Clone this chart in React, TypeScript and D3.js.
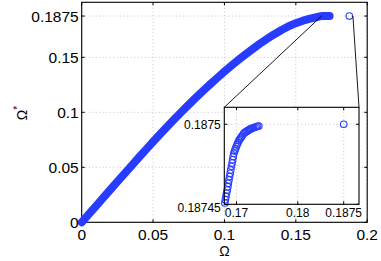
import * as d3 from "d3";

// main branch of the curve (Ω, Ω*)
const omegaMain = [0, 0.005, 0.01, 0.015, 0.02, 0.025, 0.03, 0.035, 0.04, 0.045, 0.05, 0.055, 0.06, 0.065, 0.07, 0.075, 0.08, 0.085, 0.09, 0.095, 0.1, 0.105, 0.11, 0.115, 0.12, 0.125, 0.13, 0.135, 0.14, 0.145, 0.15, 0.155, 0.16, 0.164, 0.166, 0.167];
const omegaStarMain = [0, 0.0074, 0.0148, 0.0222, 0.0296, 0.0369, 0.0443, 0.0516, 0.0589, 0.0661, 0.0732, 0.0802, 0.0871, 0.0939, 0.1005, 0.107, 0.1133, 0.1195, 0.1255, 0.1313, 0.137, 0.1425, 0.1478, 0.1529, 0.1578, 0.1625, 0.1669, 0.171, 0.1748, 0.1782, 0.181, 0.1833, 0.1851, 0.1864, 0.187, 0.18725];

// the plateau
const omegaTop = [0.16809, 0.16817, 0.16827, 0.16837, 0.16848, 0.16858, 0.16866, 0.16876, 0.16886, 0.16896, 0.16905, 0.16917, 0.16927, 0.16936, 0.16946, 0.16956, 0.16969, 0.16982, 0.16995, 0.1701, 0.17023, 0.17038, 0.17052, 0.17067, 0.17082, 0.171, 0.17119, 0.17137, 0.17157, 0.17175, 0.17193, 0.1721, 0.17228, 0.17251, 0.17276, 0.17299, 0.1732, 0.17343, 0.17364];
const omegaStarTop = [0.1874508, 0.1874529, 0.1874549, 0.1874569, 0.1874589, 0.187461, 0.1874631, 0.1874652, 0.1874673, 0.1874694, 0.1874715, 0.1874737, 0.1874758, 0.1874778, 0.1874799, 0.1874819, 0.1874833, 0.1874846, 0.187486, 0.1874873, 0.1874885, 0.1874898, 0.1874906, 0.1874914, 0.1874923, 0.1874933, 0.1874944, 0.1874949, 0.1874954, 0.1874958, 0.1874963, 0.1874966, 0.1874971, 0.1874974, 0.1874978, 0.1874981, 0.1874984, 0.1874987, 0.1874989];

// isolated point
const omegaLone = [0.1875];
const omegaStarLone = [0.1875];

const mainXTicks = [0, 0.05, 0.1, 0.15, 0.2];
const mainXLabels = ["0", "0.05", "0.1", "0.15", "0.2"];
const mainYTicks = [0, 0.05, 0.1, 0.15, 0.1875];
const mainYLabels = ["0", "0.05", "0.1", "0.15", "0.1875"];
const zoomXTicks = [0.17, 0.18, 0.1875];
const zoomXLabels = ["0.17", "0.18", "0.1875"];
const zoomYTicks = [0.18745, 0.1875];
const zoomYLabels = ["0.18745", "0.1875"];
const zoomXDomain = [0.168, 0.19];
const zoomYDomain = [0.18745, 0.1875106];

const BLUE = "#283cff";
const GRID = "#c4c4c4";
const FONT = "'Liberation Sans', Arial, Helvetica, sans-serif";

export default function App() {
  const W = 381, H = 261;
  const sx = d3.scaleLinear().domain([0, 0.2]).range([81.7, 367.2]);
  const sy = d3.scaleLinear().domain([0, 0.2]).range([222.3, 2.3]);
  const ix = d3.scaleLinear().domain(zoomXDomain).range([224.3, 359]);
  const iy = d3.scaleLinear().domain(zoomYDomain).range([204.3, 107.3]);
  const [mx0, mx1] = sx.range(), [my0, my1] = sy.range();
  const [ix0, ix1] = ix.range(), [iy0, iy1] = iy.range();

  const all = [...omegaMain.map((w, i) => [w, omegaStarMain[i]]), ...omegaTop.map((w, i) => [w, omegaStarTop[i]])];
  const band = d3.line().x(d => sx(d[0])).y(d => sy(d[1]))(all);
  const top = omegaTop.map((w, i) => [w, omegaStarTop[i]]);
  const lone = omegaLone.map((w, i) => [w, omegaStarLone[i]]);
  const tk = 3;

  return (
    <svg width={W} height={H} viewBox={`0 0 ${W} ${H}`} style={{ position: "fixed", left: 0, top: 0, background: "#fff", fontFamily: FONT }}>
      <rect x={0} y={0} width={W} height={H} fill="#fff" />
      {/* main grid */}
      {mainXTicks.map((t, i) => <line key={"gx" + i} x1={sx(t)} x2={sx(t)} y1={my0} y2={my1} stroke={GRID} strokeDasharray="1 2.5" />)}
      {mainYTicks.map((t, i) => <line key={"gy" + i} x1={mx0} x2={mx1} y1={sy(t)} y2={sy(t)} stroke={GRID} strokeDasharray="1 2.5" />)}
      {/* ticks */}
      {mainXTicks.map((t, i) => <g key={"tx" + i} stroke="#000">
        <line x1={sx(t)} x2={sx(t)} y1={my0} y2={my0 - tk} />
        <line x1={sx(t)} x2={sx(t)} y1={my1} y2={my1 + tk} />
      </g>)}
      {mainYTicks.map((t, i) => <g key={"ty" + i} stroke="#000">
        <line x1={mx0} x2={mx0 + tk} y1={sy(t)} y2={sy(t)} />
        <line x1={mx1} x2={mx1 - tk} y1={sy(t)} y2={sy(t)} />
      </g>)}
      <rect x={mx0} y={my1} width={mx1 - mx0} height={my0 - my1} fill="none" stroke="#000" strokeWidth={1.1} />
      {/* data */}
      <path d={band ?? ""} fill="none" stroke={BLUE} strokeWidth={8} strokeLinecap="round" strokeLinejoin="round" />
      {lone.map((d, i) => <circle key={"l" + i} cx={sx(d[0])} cy={sy(d[1])} r={3.3} fill="none" stroke={BLUE} strokeWidth={1.1} />)}
      {/* tick labels */}
      {mainXTicks.map((t, i) => <text key={"lx" + i} x={sx(t)} y={my0 + 17.7} textAnchor="middle" fontSize={15.5}>{mainXLabels[i]}</text>)}
      {mainYTicks.map((t, i) => <text key={"ly" + i} x={mx0 - 3} y={sy(t) + 5.5} textAnchor="end" fontSize={15.5}>{mainYLabels[i]}</text>)}
      <text x={sx(0.1)} y={256} textAnchor="middle" fontSize={14}>Ω</text>
      <text transform="translate(27,113) rotate(-90)" textAnchor="middle" fontSize={14}>Ω<tspan dy={-6} fontSize={10}>*</tspan></text>
      {/* zoom connectors */}
      <line x1={sx(zoomXDomain[0])} y1={sy(0.1875)} x2={ix0} y2={iy1} stroke="#000" strokeWidth={0.9} />
      <line x1={sx(zoomXDomain[1])} y1={sy(0.1875)} x2={ix1} y2={iy1} stroke="#000" strokeWidth={0.9} />
      {/* inset */}
      <rect x={ix0} y={iy1} width={ix1 - ix0} height={iy0 - iy1} fill="#fff" />
      {zoomXTicks.map((t, i) => <line key={"igx" + i} x1={ix(t)} x2={ix(t)} y1={iy0} y2={iy1} stroke={GRID} strokeDasharray="1 2.5" />)}
      {zoomYTicks.map((t, i) => <line key={"igy" + i} x1={ix0} x2={ix1} y1={iy(t)} y2={iy(t)} stroke={GRID} strokeDasharray="1 2.5" />)}
      {zoomXTicks.map((t, i) => <g key={"itx" + i} stroke="#000">
        <line x1={ix(t)} x2={ix(t)} y1={iy0} y2={iy0 - tk} />
        <line x1={ix(t)} x2={ix(t)} y1={iy1} y2={iy1 + tk} />
      </g>)}
      {zoomYTicks.map((t, i) => <g key={"ity" + i} stroke="#000">
        <line x1={ix0} x2={ix0 + tk} y1={iy(t)} y2={iy(t)} />
        <line x1={ix1} x2={ix1 - tk} y1={iy(t)} y2={iy(t)} />
      </g>)}
      {top.map((d, i) => <circle key={"c" + i} cx={ix(d[0])} cy={iy(d[1])} r={3.3} fill="none" stroke={BLUE} strokeWidth={1.1} />)}
      {lone.map((d, i) => <circle key={"il" + i} cx={ix(d[0])} cy={iy(d[1])} r={3.3} fill="none" stroke={BLUE} strokeWidth={1.1} />)}
      <rect x={ix0} y={iy1} width={ix1 - ix0} height={iy0 - iy1} fill="none" stroke="#000" strokeWidth={1.1} />
      {zoomXTicks.map((t, i) => <text key={"ilx" + i} x={ix(t)} y={iy0 + 12.5} textAnchor="middle" fontSize={12}>{zoomXLabels[i]}</text>)}
      {zoomYTicks.map((t, i) => <text key={"ily" + i} x={ix0 - 3.5} y={iy(t) + 5 + (i === 0 ? 2.5 : 0)} textAnchor="end" fontSize={12}>{zoomYLabels[i]}</text>)}
    </svg>
  );
}
